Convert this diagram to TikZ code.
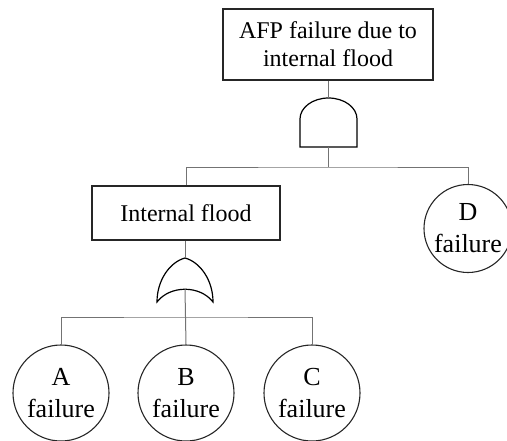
\documentclass[tikz,border=0pt]{standalone}
\usepackage{fontspec}
\setmainfont{Liberation Serif}
\newfontfamily\diagserif{Liberation Serif}
\begin{document}
\begin{tikzpicture}[x=1pt,y=1pt,
  evbox/.style={draw=black!85, line width=1.3pt, rectangle, align=center, inner sep=0pt, font=\diagserif\fontsize{24}{28}\selectfont},
  basic/.style={draw=black!85, line width=1.1pt, circle, align=center, inner sep=0pt, font=\diagserif\fontsize{26}{32}\selectfont},
  conn/.style={draw=black!55, line width=1pt},
  gate/.style={draw=black, line width=1.2pt}]
\useasboundingbox (0,-440) rectangle (507,0);
% events
\node[evbox, minimum width=210, minimum height=71] (top) at (328,-44.5) {AFP failure due to\\internal flood};
\node[evbox, minimum width=188, minimum height=54] (flood) at (186,-213) {Internal flood};
\node[basic, minimum size=96] (A) at (61,-393) {A\\failure};
\node[basic, minimum size=96] (B) at (186,-393) {B\\failure};
\node[basic, minimum size=96] (C) at (312,-393) {C\\failure};
\node[basic, minimum size=88] (D) at (468,-228.5) {D\\failure};
% AND gate
\coordinate (andtop) at (328.5,-98);
\coordinate (andbot) at (328.5,-147);
\draw[gate] (300,-147) -- (300,-119) arc[start angle=180,end angle=0,x radius=28.5,y radius=21] -- (357,-147) -- cycle;
% OR gate
\coordinate (ortop) at (185,-258);
\coordinate (orin) at (185,-289);
\draw[gate] (157,-302) .. controls (157,-280) and (170,-262) .. (ortop)
  .. controls (200,-262) and (213,-280) .. (213,-302)
  .. controls (200,-285) and (170,-285) .. (157,-302) -- cycle;
% connectors
\coordinate (bus1) at (328.5,-167);
\coordinate (bus2) at (185,-317);
\draw[conn] (top.south -| andtop) -- (andtop);
\draw[conn] (andbot) -- (bus1);
\draw[conn] (flood.north) |- (bus1) -| (D.north);
\draw[conn] (flood.south -| ortop) -- (ortop);
\draw[conn] (orin) -- (B.north);
\draw[conn] (A.north) |- (bus2) -| (C.north);
\end{tikzpicture}
\end{document}
